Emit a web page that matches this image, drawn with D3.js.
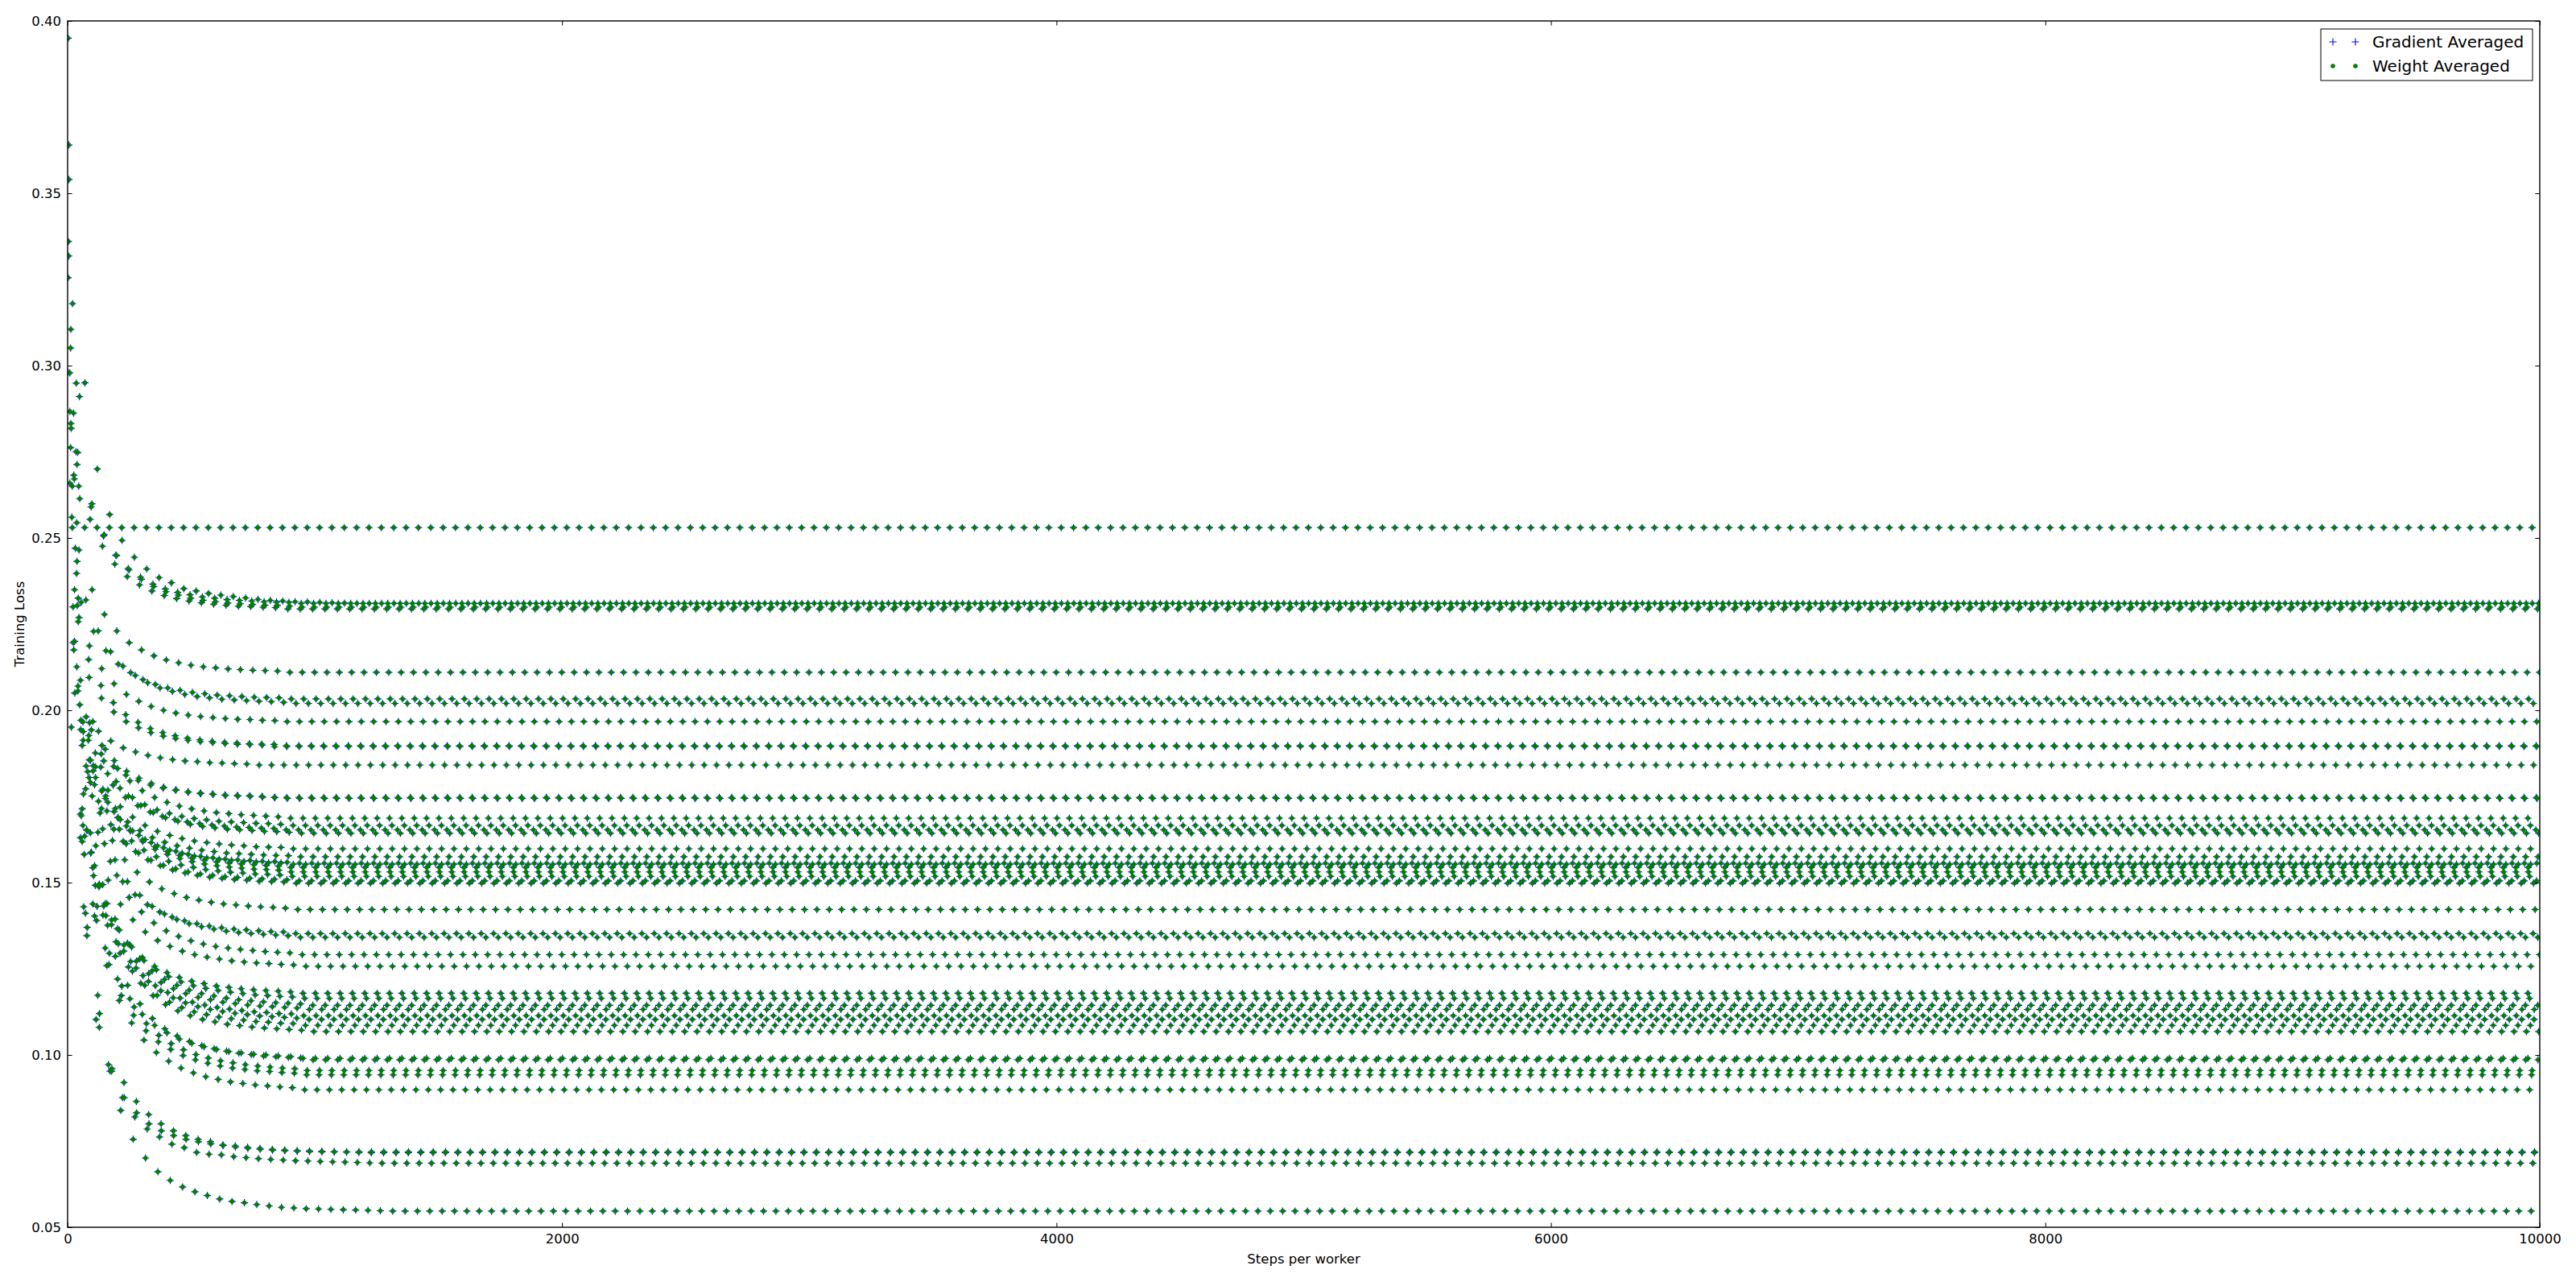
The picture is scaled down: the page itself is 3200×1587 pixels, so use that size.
<!DOCTYPE html>
<html><head><meta charset="utf-8">
<script src="https://cdn.jsdelivr.net/npm/d3@7"></script>
<style>
body{margin:0;background:#fff}
svg{display:block}
text{font-family:"DejaVu Sans",sans-serif;fill:#000}
</style>
</head><body>
<svg id="chart" width="3200" height="1587"></svg>
<script>
// ---------- data ----------
const seriesNames = ["Gradient Averaged", "Weight Averaged"];
const xTicks = [0, 2000, 4000, 6000, 8000, 10000];
const yTicks = [0.05, 0.10, 0.15, 0.20, 0.25, 0.30, 0.35, 0.40];
const xLabel = "Steps per worker";
const yLabel = "Training Loss";
const logInterval = 50;      // each batch curve is logged every 50 steps
const lastStep = 10000;

// first logged step (0-49) of each batch curve
const phases = [19,45,20,48,41,49,5,24,38,35,37,25,36,39,2,12,34,46,13,43,38,13,3,4,9,37,25,31,23,42,49,14,2,9,42,28,5,27,12,46,2,43,19,17,9,28,29,22,15];
// plateau loss each curve settles on (right part of the chart)
const plateaus = [0.2530,0.2310,0.2310,0.2299,0.2294,0.2110,0.2033,0.2020,0.1967,0.1897,0.1895,0.1841,0.1747,0.1744,0.1687,0.1666,0.1653,0.1643,0.1598,0.1575,0.1556,0.1553,0.1544,0.1531,0.1518,0.1505,0.1498,0.1422,0.1352,0.1341,0.1291,0.1257,0.1179,0.1164,0.1144,0.1132,0.1114,0.1103,0.1086,0.1068,0.0990,0.0986,0.0955,0.0942,0.0899,0.0716,0.0719,0.0686,0.0547];
// early readings of each curve, one every 50 steps starting at its phase
const earlyReadings = [
 [0.2530],
 [0.2650,0.2590,0.2506,0.2450,0.2411,0.2386,0.2366,0.2352,0.2342,0.2335,0.2329,0.2325,0.2321,0.2319,0.2317,0.2315,0.2314,0.2313],
 [0.3180,0.2950,0.2700,0.2568,0.2493,0.2444,0.2410,0.2385,0.2370,0.2353,0.2346,0.2339,0.2334,0.2330,0.2326,0.2322,0.2319,0.2317,0.2315,0.2314,0.2313,0.2312,0.2311],
 [0.2910,0.2599,0.2509,0.2449,0.2407,0.2380,0.2359,0.2344,0.2334,0.2325,0.2319,0.2315,0.2311,0.2309,0.2307,0.2305,0.2304,0.2302],
 [0.2748,0.2554,0.2476,0.2424,0.2388,0.2364,0.2346,0.2333,0.2324,0.2317,0.2312,0.2308,0.2305,0.2302,0.2301,0.2299,0.2298],
 [0.2614,0.2350,0.2278,0.2230,0.2196,0.2175,0.2158,0.2146,0.2138,0.2131,0.2126,0.2123,0.2120,0.2118,0.2116,0.2115,0.2114],
 [0.3640,0.2313,0.2229,0.2173,0.2134,0.2109,0.2089,0.2075,0.2065,0.2058,0.2052,0.2048,0.2044,0.2042,0.2040,0.2038,0.2037,0.2036],
 [0.2862,0.2320,0.2230,0.2170,0.2128,0.2101,0.2080,0.2065,0.2055,0.2046,0.2040,0.2036,0.2032,0.2030,0.2028,0.2026,0.2025,0.2023],
 [0.2713,0.2187,0.2121,0.2077,0.2046,0.2026,0.2011,0.2000,0.1992,0.1986,0.1982,0.1979,0.1976,0.1974,0.1973,0.1971,0.1970],
 [0.2949,0.2147,0.2072,0.2022,0.1987,0.1965,0.1947,0.1935,0.1926,0.1919,0.1914,0.1910,0.1907,0.1905,0.1903,0.1902,0.1901],
 [0.2544,0.2095,0.2035,0.1995,0.1967,0.1949,0.1935,0.1925,0.1918,0.1913,0.1909,0.1906,0.1903,0.1901,0.1900,0.1899],
 [0.2682,0.1981,0.1939,0.1911,0.1891,0.1879,0.1869,0.1862,0.1857,0.1853,0.1851,0.1848,0.1847,0.1845,0.1844],
 [0.2397,0.1927,0.1873,0.1837,0.1812,0.1796,0.1783,0.1774,0.1768,0.1763,0.1759,0.1757,0.1754,0.1753,0.1752,0.1750],
 [0.2304,0.1964,0.1898,0.1854,0.1823,0.1803,0.1788,0.1777,0.1769,0.1763,0.1759,0.1756,0.1753,0.1751,0.1750,0.1748,0.1747],
 [0.3950,0.2087,0.1967,0.1887,0.1831,0.1795,0.1767,0.1747,0.1733,0.1722,0.1714,0.1708,0.1703,0.1700,0.1697,0.1695,0.1693,0.1691],
 [0.3051,0.1966,0.1876,0.1816,0.1774,0.1747,0.1726,0.1711,0.1701,0.1692,0.1686,0.1682,0.1678,0.1676,0.1674,0.1672,0.1671,0.1669],
 [0.2750,0.1913,0.1835,0.1783,0.1747,0.1723,0.1705,0.1692,0.1683,0.1676,0.1671,0.1667,0.1664,0.1661,0.1660,0.1658,0.1657],
 [0.2465,0.1943,0.1853,0.1793,0.1751,0.1724,0.1703,0.1688,0.1678,0.1669,0.1663,0.1659,0.1655,0.1653,0.1651,0.1649,0.1648,0.1646],
 [0.3105,0.1938,0.1836,0.1768,0.1720,0.1690,0.1666,0.1649,0.1637,0.1628,0.1621,0.1616,0.1612,0.1609,0.1607,0.1604,0.1603,0.1602],
 [0.2257,0.1855,0.1771,0.1715,0.1676,0.1651,0.1631,0.1617,0.1607,0.1600,0.1594,0.1590,0.1586,0.1584,0.1582,0.1580,0.1579,0.1578],
 [0.2432,0.1856,0.1766,0.1706,0.1664,0.1637,0.1616,0.1601,0.1591,0.1582,0.1576,0.1572,0.1568,0.1566,0.1564,0.1562,0.1561,0.1559],
 [0.2832,0.1913,0.1805,0.1733,0.1683,0.1650,0.1625,0.1607,0.1594,0.1585,0.1577,0.1572,0.1568,0.1565,0.1562,0.1560,0.1558,0.1557],
 [0.3360,0.1944,0.1824,0.1744,0.1688,0.1652,0.1624,0.1604,0.1590,0.1579,0.1571,0.1565,0.1560,0.1557,0.1554,0.1552,0.1550,0.1548],
 [0.3318,0.1971,0.1839,0.1751,0.1689,0.1650,0.1619,0.1597,0.1582,0.1570,0.1561,0.1554,0.1549,0.1545,0.1542,0.1539,0.1538,0.1536],
 [0.2659,0.1898,0.1784,0.1708,0.1655,0.1621,0.1594,0.1575,0.1562,0.1551,0.1544,0.1538,0.1534,0.1530,0.1528,0.1525,0.1524,0.1522],
 [0.2126,0.1805,0.1715,0.1655,0.1613,0.1586,0.1565,0.1550,0.1540,0.1531,0.1525,0.1521,0.1517,0.1515,0.1513,0.1511,0.1510,0.1508],
 [0.2175,0.1838,0.1736,0.1668,0.1620,0.1590,0.1566,0.1549,0.1537,0.1528,0.1521,0.1516,0.1512,0.1509,0.1507,0.1504,0.1503,0.1502],
 [0.2470,0.1822,0.1702,0.1622,0.1566,0.1530,0.1502,0.1482,0.1468,0.1457,0.1449,0.1443,0.1438,0.1435,0.1432,0.1430,0.1428,0.1426],
 [0.2196,0.1772,0.1646,0.1562,0.1503,0.1465,0.1436,0.1415,0.1400,0.1389,0.1381,0.1374,0.1369,0.1365,0.1363,0.1360,0.1358,0.1357],
 [0.2070,0.1791,0.1656,0.1566,0.1503,0.1463,0.1431,0.1409,0.1393,0.1381,0.1372,0.1365,0.1359,0.1355,0.1352,0.1350,0.1348,0.1346],
 [0.2016,0.1751,0.1613,0.1521,0.1457,0.1415,0.1383,0.1360,0.1344,0.1331,0.1322,0.1315,0.1310,0.1306,0.1303,0.1300,0.1298,0.1296],
 [0.2818,0.1757,0.1607,0.1507,0.1437,0.1392,0.1357,0.1332,0.1315,0.1301,0.1291,0.1284,0.1278,0.1273,0.1270,0.1267,0.1265,0.1263,0.1261],
 [0.3255,0.1699,0.1543,0.1439,0.1366,0.1319,0.1283,0.1257,0.1239,0.1225,0.1214,0.1207,0.1200,0.1196,0.1192,0.1189,0.1187,0.1185,0.1183],
 [0.2979,0.1714,0.1549,0.1439,0.1362,0.1313,0.1274,0.1247,0.1227,0.1212,0.1201,0.1193,0.1187,0.1182,0.1178,0.1174,0.1172,0.1170,0.1168],
 [0.2056,0.1644,0.1494,0.1394,0.1324,0.1279,0.1244,0.1219,0.1202,0.1188,0.1178,0.1171,0.1165,0.1160,0.1157,0.1154,0.1152,0.1150,0.1148],
 [0.2350,0.1652,0.1496,0.1392,0.1319,0.1272,0.1236,0.1210,0.1192,0.1178,0.1167,0.1160,0.1153,0.1149,0.1145,0.1142,0.1140,0.1138,0.1136],
 [0.3540,0.1694,0.1520,0.1404,0.1323,0.1271,0.1230,0.1201,0.1181,0.1165,0.1153,0.1145,0.1138,0.1133,0.1129,0.1125,0.1123,0.1120,0.1119],
 [0.2671,0.1653,0.1488,0.1378,0.1301,0.1252,0.1213,0.1186,0.1166,0.1151,0.1140,0.1132,0.1126,0.1121,0.1117,0.1113,0.1111,0.1109,0.1107],
 [0.2762,0.1666,0.1492,0.1376,0.1295,0.1243,0.1202,0.1173,0.1153,0.1137,0.1125,0.1117,0.1110,0.1105,0.1101,0.1097,0.1095,0.1092,0.1091],
 [0.2269,0.1588,0.1432,0.1328,0.1255,0.1208,0.1172,0.1146,0.1128,0.1114,0.1103,0.1096,0.1089,0.1085,0.1081,0.1078,0.1076,0.1074,0.1072],
 [0.2980,0.1630,0.1438,0.1310,0.1220,0.1163,0.1118,0.1086,0.1064,0.1046,0.1034,0.1024,0.1016,0.1010,0.1006,0.1002,0.1000,0.0997,0.0995],
 [0.2325,0.1586,0.1406,0.1286,0.1202,0.1148,0.1106,0.1076,0.1055,0.1039,0.1027,0.1018,0.1011,0.1005,0.1001,0.0997,0.0995,0.0993,0.0991],
 [0.2650,0.1635,0.1431,0.1295,0.1200,0.1139,0.1091,0.1057,0.1033,0.1015,0.1001,0.0991,0.0983,0.0977,0.0972,0.0968,0.0965,0.0962,0.0960],
 [0.2560,0.1582,0.1390,0.1262,0.1172,0.1115,0.1070,0.1038,0.1016,0.0998,0.0986,0.0976,0.0968,0.0962,0.0958,0.0954,0.0952,0.0949,0.0947],
 [0.2867,0.1619,0.1403,0.1259,0.1158,0.1093,0.1043,0.1007,0.0982,0.0962,0.0948,0.0937,0.0929,0.0922,0.0917,0.0913,0.0910,0.0907,0.0905],
 [0.2200,0.1346,0.1080,0.0953,0.0920,0.0865,0.0827,0.0800,0.0780,0.0766,0.0755,0.0748,0.0739,0.0736,0.0732,0.0729,0.0726,0.0724,0.0722,0.0721,0.0720,0.0719,0.0718,0.0717],
 [0.2050,0.1370,0.1120,0.0960,0.0876,0.0832,0.0800,0.0780,0.0766,0.0755,0.0748,0.0742,0.0737,0.0733,0.0729,0.0726,0.0724,0.0722,0.0721,0.0720],
 [0.2300,0.1411,0.1173,0.0953,0.0876,0.0820,0.0785,0.0762,0.0741,0.0731,0.0717,0.0712,0.0710,0.0705,0.0702,0.0699,0.0697,0.0695,0.0693,0.0692,0.0691,0.0690,0.0689,0.0688,0.0687],
 [0.1951,0.1430,0.1103,0.0972,0.0839,0.0755,0.0701,0.0661,0.0636,0.0617,0.0603,0.0592,0.0582,0.0575,0.0571,0.0566,0.0562,0.0558,0.0556,0.0554,0.0553,0.0552,0.0551,0.0550,0.0549,0.0548]
];

// ---------- build the point lists ----------
function curvePoints(i) {
  const pts = [];
  const early = earlyReadings[i];
  let k = 0;
  for (let s = phases[i]; s <= lastStep; s += logInterval, k++) {
    pts.push({step: s, loss: k < early.length ? early[k] : plateaus[i]});
  }
  return pts;
}
const weightAveraged = [];
phases.forEach((_, i) => weightAveraged.push(...curvePoints(i)));
// the gradient-averaged run lies on top of the weight-averaged one in the picture
const gradientAveraged = weightAveraged.map(d => ({step: d.step, loss: d.loss}));

// ---------- drawing ----------
const W = 3200, H = 1587;
const m = {left: 84, right: 3155, top: 26, bottom: 1524};
const svg = d3.select("#chart");
const x = d3.scaleLinear().domain([0, 10000]).range([m.left, m.right]);
const y = d3.scaleLinear().domain([0.05, 0.40]).range([m.bottom, m.top]);

svg.append("rect").attr("width", W).attr("height", H).attr("fill", "#fff");

svg.append("defs").append("clipPath").attr("id", "plotclip")
  .append("rect").attr("x", m.left).attr("y", m.top)
  .attr("width", m.right - m.left).attr("height", m.bottom - m.top);

const plot = svg.append("g").attr("clip-path", "url(#plotclip)");
const plusPath = "M-4.5,0H4.5M0,-4.5V4.5";

plot.append("g").selectAll("path").data(gradientAveraged).join("path")
  .attr("d", plusPath)
  .attr("transform", d => `translate(${x(d.step)},${y(d.loss)})`)
  .attr("fill", "none").attr("stroke", "#0000ff").attr("stroke-width", 1.1);

plot.append("g").selectAll("circle").data(weightAveraged).join("circle")
  .attr("cx", d => x(d.step)).attr("cy", d => y(d.loss)).attr("r", 2.8)
  .attr("fill", "#008000");

// axes (classic matplotlib: inward ticks on all sides)
const tick = 5.6, fs = "16.5px";
const fmtY = d3.format(".2f");
function styleAxis(g, labels) {
  g.select(".domain").remove();
  g.selectAll(".tick line").attr("stroke", "#000").attr("stroke-width", 1);
  g.selectAll(".tick text").style("font-size", fs).style("font-family", "DejaVu Sans").attr("fill", "#000");
  if (!labels) g.selectAll(".tick text").remove();
}
svg.append("g").attr("transform", `translate(0,${m.bottom})`)
  .call(d3.axisBottom(x).tickValues(xTicks).tickFormat(d3.format("d")).tickSizeInner(-tick).tickSizeOuter(0).tickPadding(8))
  .call(g => styleAxis(g, true));
svg.append("g").attr("transform", `translate(0,${m.top})`)
  .call(d3.axisTop(x).tickValues(xTicks).tickSizeInner(-tick).tickSizeOuter(0))
  .call(g => styleAxis(g, false));
svg.append("g").attr("transform", `translate(${m.left},0)`)
  .call(d3.axisLeft(y).tickValues(yTicks).tickFormat(fmtY).tickSizeInner(-tick).tickSizeOuter(0).tickPadding(8))
  .call(g => styleAxis(g, true));
svg.append("g").attr("transform", `translate(${m.right},0)`)
  .call(d3.axisRight(y).tickValues(yTicks).tickSizeInner(-tick).tickSizeOuter(0))
  .call(g => styleAxis(g, false));

svg.append("rect").attr("x", m.left).attr("y", m.top)
  .attr("width", m.right - m.left).attr("height", m.bottom - m.top)
  .attr("fill", "none").attr("stroke", "#000").attr("stroke-width", 1.4);

svg.append("text").attr("x", (m.left + m.right) / 2).attr("y", 1569)
  .attr("text-anchor", "middle").style("font-size", fs).text(xLabel);
svg.append("text").attr("transform", `translate(24,${(m.top + m.bottom) / 2}) rotate(-90)`)
  .attr("text-anchor", "middle").attr("dominant-baseline", "central").style("font-size", fs).text(yLabel);

// legend
const lg = svg.append("g");
lg.append("rect").attr("x", 2883).attr("y", 36).attr("width", 263).attr("height", 64)
  .attr("fill", "#fff").attr("stroke", "#000").attr("stroke-width", 1);
const rows = [52, 82];
seriesNames.forEach((name, i) => {
  [2898, 2926].forEach(mx => {
    if (i === 0) lg.append("path").attr("d", plusPath).attr("transform", `translate(${mx},${rows[i]})`)
      .attr("fill", "none").attr("stroke", "#0000ff").attr("stroke-width", 1.1);
    else lg.append("circle").attr("cx", mx).attr("cy", rows[i]).attr("r", 2.8).attr("fill", "#008000");
  });
  lg.append("text").attr("x", 2947).attr("y", rows[i]).attr("dominant-baseline", "central")
    .style("font-size", "20px").text(name);
});
</script>
</body></html>
